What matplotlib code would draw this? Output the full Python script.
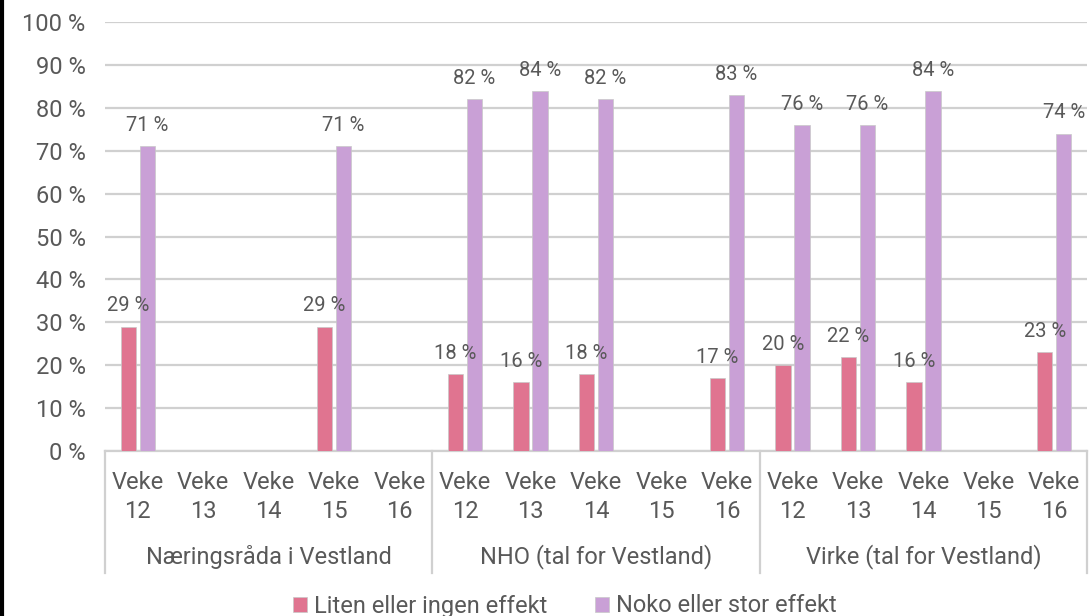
# Effekt av tiltak: stolpediagram per veke og organisasjon
import numpy as np
import matplotlib.pyplot as plt
from matplotlib.lines import Line2D

# INGRESO
grupper = ['Næringsråda i Vestland', 'NHO (tal for Vestland)', 'Virke (tal for Vestland)']
veker = ['12', '13', '14', '15', '16']
liten = [29, np.nan, np.nan, 29, np.nan,
         18, 16, 18, np.nan, 17,
         20, 22, 16, np.nan, 23]
noko = [71, np.nan, np.nan, 71, np.nan,
        82, 84, 82, np.nan, 83,
        76, 76, 84, np.nan, 74]
serie_namn = ['Liten eller ingen effekt', 'Noko eller stor effekt']
yticks = np.arange(0, 101, 10)

# stil
farge_liten = '#E07490'
farge_noko = '#C9A0D6'
tekstfarge = '#595959'
gridfarge = '#D0D0D0'
plt.rcParams['font.family'] = ['Roboto', 'DejaVu Sans']

# PROCEDIMIENTO
n = len(liten)
x = np.arange(n)
b = 0.235
d = 0.145

fig = plt.figure(figsize=(10.89, 6.16), dpi=100)
ax = fig.add_axes([105/1089, 165/616, 982/1089, 429/616])

ax.bar(x - d, liten, b, color=farge_liten, edgecolor='#C8C8C8', linewidth=0.5,
       label=serie_namn[0], zorder=3)
ax.bar(x + d, noko, b, color=farge_noko, edgecolor='#C8C8C8', linewidth=0.5,
       label=serie_namn[1], zorder=3)

# etikettar over stolpane
for i in range(n):
    for off, v in [(-d, liten[i]), (d, noko[i])]:
        if not np.isnan(v):
            ax.annotate('%d %%' % v, (x[i] + off, v), xytext=(0, 8),
                        textcoords='offset points', ha='center', va='bottom',
                        fontsize=14.5, color=tekstfarge)

ax.set_xlim(-0.5, n - 0.5)
ax.set_ylim(0, 100)
ax.set_yticks(yticks)
ax.set_yticklabels(['%d %%' % t for t in yticks], fontsize=17, color=tekstfarge)
ax.tick_params(axis='y', length=0, pad=14)
ax.yaxis.grid(True, color=gridfarge, linewidth=1.6, zorder=0)
ax.set_xticks([])
for s in ['top', 'right', 'left']:
    ax.spines[s].set_visible(False)
ax.spines['bottom'].set_color(gridfarge)
ax.spines['bottom'].set_linewidth(1.6)

# kategori-aksen med to nivå
tr = ax.get_xaxis_transform()
for i in range(n):
    ax.text(x[i], -0.073, 'Veke', transform=tr, ha='center', va='center',
            fontsize=17, color=tekstfarge)
    ax.text(x[i], -0.14, veker[i % 5], transform=tr, ha='center', va='center',
            fontsize=17, color=tekstfarge)
for g in range(len(grupper)):
    ax.text(g*5 + 2, -0.247, grupper[g], transform=tr, ha='center', va='center',
            fontsize=17, color=tekstfarge)
for k in range(len(grupper) + 1):
    ax.add_line(Line2D([k*5 - 0.5, k*5 - 0.5], [0, -0.285], transform=tr,
                       color=gridfarge, linewidth=1.6, clip_on=False))

# svart kant til venstre
fig.add_artist(Line2D([2/1089, 2/1089], [0, 1], transform=fig.transFigure,
                      color='black', linewidth=3))

fig.legend(loc='center', bbox_to_anchor=(565/1089, 10/616), ncol=2, frameon=False,
           fontsize=17, labelcolor=tekstfarge, handlelength=0.6, handleheight=0.6,
           handletextpad=0.3, columnspacing=2.0)

fig.savefig('out.png', dpi=100)
